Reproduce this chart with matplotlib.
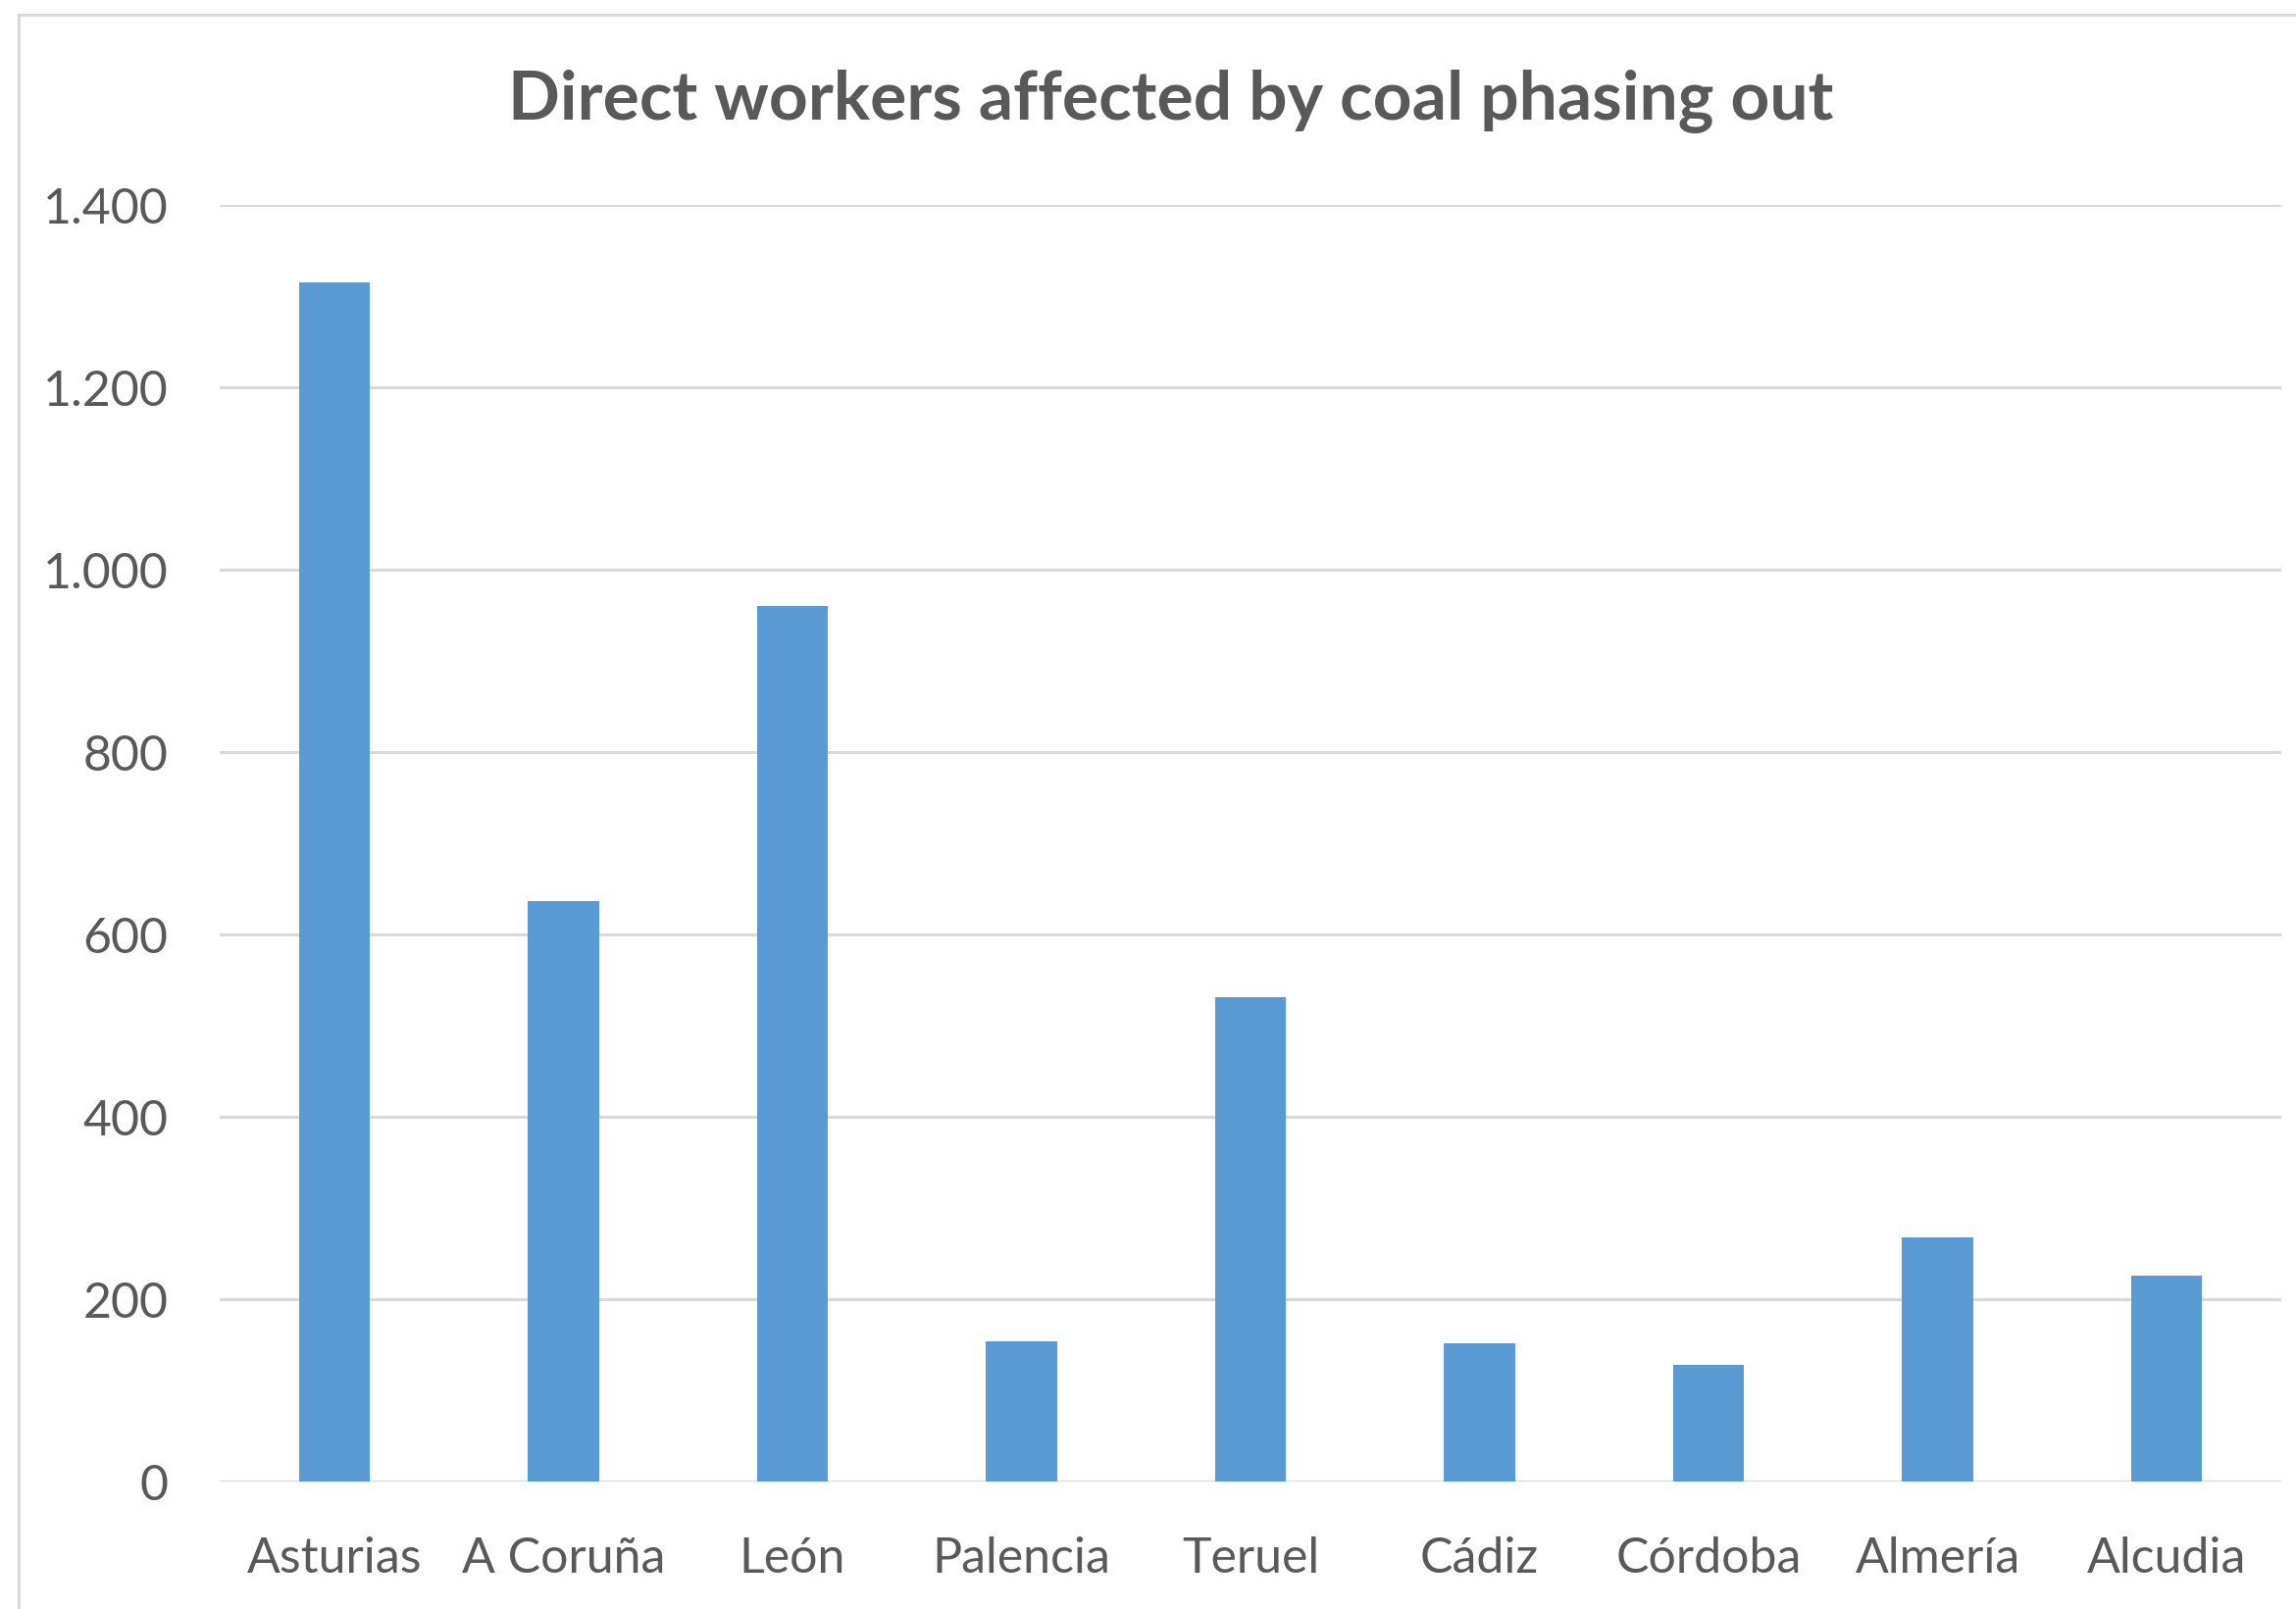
import matplotlib.pyplot as plt
from matplotlib.patches import Rectangle
from matplotlib.ticker import FuncFormatter

plt.rcParams['font.family'] = ['Lato', 'DejaVu Sans']

# direct workers per province
provinces = ['Asturias', 'A Coruña', 'León', 'Palencia', 'Teruel',
             'Cádiz', 'Córdoba', 'Almería', 'Alcudia']
workers = [1315, 637, 960, 154, 531, 152, 128, 268, 226]
y_ticks = [0, 200, 400, 600, 800, 1000, 1200, 1400]

text_color = '#595959'
grid_color = '#D9D9D9'
bar_color = '#5B9BD5'

fig = plt.figure(figsize=(23.41, 16.41), dpi=100)
ax = fig.add_axes([0.0957, 0.0792, 0.8979, 0.7934])

ax.bar(range(len(provinces)), workers, width=0.31, color=bar_color, zorder=3)

ax.set_xlim(-0.5, len(provinces) - 0.5)
ax.set_ylim(0, 1400)
ax.set_yticks(y_ticks)
ax.yaxis.set_major_formatter(FuncFormatter(lambda v, p: f'{int(v):,}'.replace(',', '.')))
ax.set_xticks(range(len(provinces)))
ax.set_xticklabels(provinces)

ax.grid(axis='y', color=grid_color, linewidth=2.2, zorder=0)
ax.set_axisbelow(True)
for s in ax.spines.values():
    s.set_visible(False)
ax.tick_params(axis='both', length=0, labelsize=36, colors=text_color)
ax.tick_params(axis='y', pad=38)
ax.tick_params(axis='x', pad=40)

fig.text(0.51, 0.937, 'Direct workers affected by coal phasing out',
         ha='center', va='center', fontsize=50, fontweight='bold', color=text_color)

# outer chart border (left and top visible, cropped on right/bottom)
fig.patches.append(Rectangle((0.0083, -0.05), 1.2, 1.041, transform=fig.transFigure,
                             fill=False, edgecolor=grid_color, linewidth=2.2))

fig.savefig('out.png', dpi=100, facecolor='white')
